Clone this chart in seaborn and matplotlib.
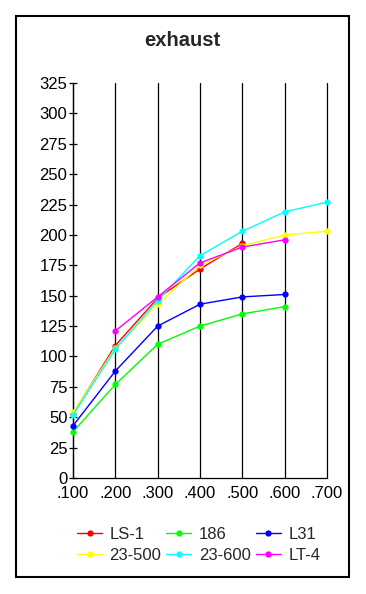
import matplotlib
matplotlib.use("Agg")
import matplotlib.pyplot as plt
import seaborn as sns
import pandas as pd
from matplotlib.patches import Rectangle

sns.set_style("white")
plt.rcParams['font.family'] = ['Liberation Sans', 'DejaVu Sans']

x_ls1 = [0.1, 0.2, 0.3, 0.4, 0.5]
y_ls1 = [53, 109, 148, 172, 193]
x_186 = [0.1, 0.2, 0.3, 0.4, 0.5, 0.6]
y_186 = [38, 77, 110, 125, 135, 141]
x_l31 = [0.1, 0.2, 0.3, 0.4, 0.5, 0.6]
y_l31 = [43, 88, 125, 143, 149, 151]
x_23500 = [0.1, 0.2, 0.3, 0.4, 0.5, 0.6, 0.7]
y_23500 = [54, 107, 143, 175, 191, 200, 203]
x_23600 = [0.1, 0.2, 0.3, 0.4, 0.5, 0.6, 0.7]
y_23600 = [52, 106, 146, 183, 203, 219, 227]
x_lt4 = [0.2, 0.3, 0.4, 0.5, 0.6]
y_lt4 = [121, 149, 177, 190, 196]

series_names = ["LS-1", "186", "L31", "23-500", "23-600", "LT-4"]
series_x = [x_ls1, x_186, x_l31, x_23500, x_23600, x_lt4]
series_y = [y_ls1, y_186, y_l31, y_23500, y_23600, y_lt4]
colors = ["#FF0000", "#00FF00", "#0000FF", "#FFFF00", "#00FFFF", "#FF00FF"]

x_ticks = [0.1, 0.2, 0.3, 0.4, 0.5, 0.6, 0.7]
x_labels = [".100", ".200", ".300", ".400", ".500", ".600", ".700"]
y_ticks = list(range(0, 326, 25))

fig = plt.figure(figsize=(3.66, 5.94), dpi=100)
ax = fig.add_axes([73/366, 1-478/594, (327-73)/366, (478-83)/594])

handles = {}
for name, xs, ys, c in zip(series_names, series_x, series_y, colors):
    df = pd.DataFrame({"x": xs, "y": ys})
    sns.lineplot(data=df, x="x", y="y", ax=ax, color=c, marker="o",
                 markersize=4.5, markeredgewidth=0, linewidth=1.0,
                 label=name, legend=False, clip_on=False, zorder=3)
    handles[name] = ax.lines[-1]

ax.set_xlim(0.1, 0.7)
ax.set_ylim(0, 325)
ax.set_xticks(x_ticks)
ax.set_xticklabels(x_labels)
ax.set_yticks(y_ticks)
ax.set_xlabel("")
ax.set_ylabel("")
ax.grid(False)
for xv in x_ticks:
    ax.axvline(xv, color="black", linewidth=0.9, zorder=0.5, clip_on=False)
for s in ["left", "bottom"]:
    ax.spines[s].set_color("black")
    ax.spines[s].set_linewidth(0.9)
ax.spines["top"].set_visible(False)
ax.spines["right"].set_visible(False)
ax.tick_params(axis="y", direction="inout", length=6, width=0.9, pad=1,
               labelsize=12, colors="black", left=True)
ax.tick_params(axis="x", length=0, pad=6, labelsize=12, colors="black")

fig.text(182.5/366, 1-40/594, "exhaust", ha="center", va="center",
         fontsize=14.5, fontweight="bold")

order = ["LS-1", "23-500", "186", "23-600", "L31", "LT-4"]
fig.legend([handles[n] for n in order], order, ncol=3, frameon=False,
           loc="upper left", bbox_to_anchor=(77/366, 1-527/594),
           fontsize=12, handlelength=1.5, handletextpad=0.45,
           columnspacing=0.3, labelspacing=0.35, borderpad=0,
           borderaxespad=0)

fig.patches.append(Rectangle((16/366, 1-577/594), (349-16)/366, (577-16)/594,
                             transform=fig.transFigure, fill=False,
                             edgecolor="black", linewidth=1.5))

fig.savefig("out.png", dpi=100)
